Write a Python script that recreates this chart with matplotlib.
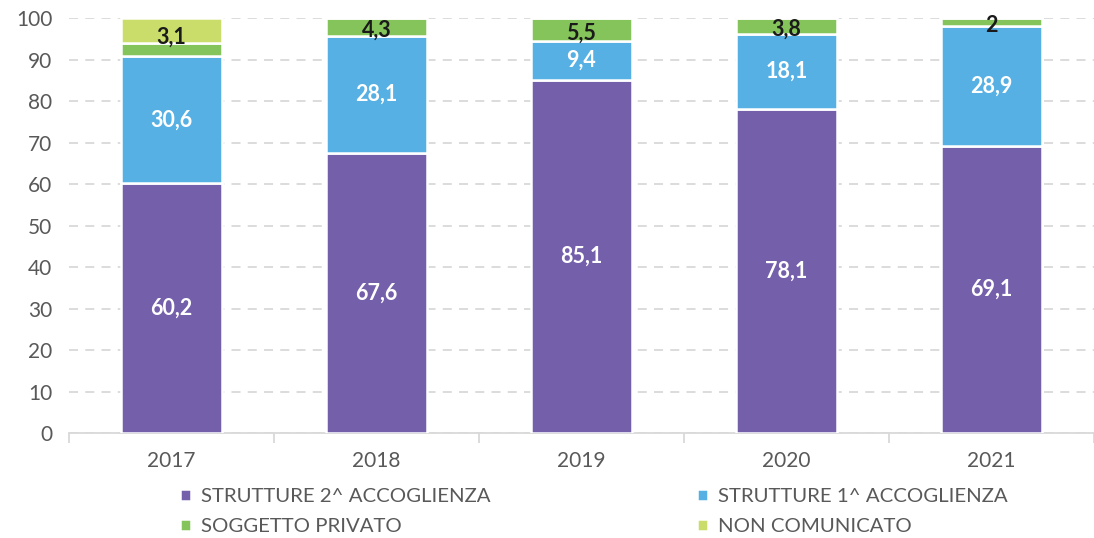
import matplotlib.pyplot as plt
import numpy as np

plt.rcParams['font.family'] = ['Lato', 'DejaVu Sans']

years = ['2017', '2018', '2019', '2020', '2021']
seconda = [60.2, 67.6, 85.1, 78.1, 69.1]
prima = [30.6, 28.1, 9.4, 18.1, 28.9]
privato = [3.1, 4.3, 5.5, 3.8, 2.0]
non_comunicato = [6.1, 0, 0, 0, 0]

series = [
    ('STRUTTURE 2^ ACCOGLIENZA', seconda, '#745FAB'),
    ('STRUTTURE 1^ ACCOGLIENZA', prima, '#56B0E3'),
    ('SOGGETTO PRIVATO', privato, '#84C45A'),
    ('NON COMUNICATO', non_comunicato, '#CADD6A'),
]

fig = plt.figure(figsize=(10.94, 5.38), dpi=100)
ax = fig.add_axes([0.063, 0.195, 0.937, 0.7715])

x = np.arange(len(years))
width = 0.49
bottom = np.zeros(len(years))
bars = {}
for name, vals, col in series:
    vals = np.array(vals, dtype=float)
    bars[name] = ax.bar(x, vals, width, bottom=bottom, color=col,
                        edgecolor='white', linewidth=1.8, label=name, zorder=3)
    bottom = bottom + vals

# labels for the two big segments
for name in ['STRUTTURE 2^ ACCOGLIENZA', 'STRUTTURE 1^ ACCOGLIENZA']:
    ax.bar_label(bars[name], labels=[f'{v:.1f}'.replace('.', ',') for v in bars[name].datavalues],
                 label_type='center', color='white', fontsize=15.5, fontweight='bold', zorder=4)

# small labels for soggetto privato
for i in range(len(years)):
    v = privato[i]
    base = seconda[i] + prima[i]
    if non_comunicato[i] > 0:
        y = base + v + 1.5
    else:
        y = base + v / 2 - 0.8
    txt = f'{v:g}'.replace('.', ',')
    ax.text(x[i], y, txt, ha='center', va='center', fontsize=15.5,
            fontweight='bold', color='#1a1a1a', zorder=5)

ax.set_ylim(0, 100)
ax.set_xlim(-0.5, len(years) - 0.5)
ax.set_yticks(range(0, 101, 10))
ax.yaxis.grid(True, linestyle=(0, (5, 4)), color='#d9d9d9', linewidth=1.3, zorder=0)
ax.set_axisbelow(True)

ax.set_xticks(x)
ax.set_xticklabels(years)
ax.set_xticks(np.arange(-0.5, len(years)), minor=True)
ax.tick_params(axis='x', which='major', length=0, pad=13, labelsize=15, labelcolor='#595959')
ax.tick_params(axis='x', which='minor', length=7, color='#d9d9d9', width=1.3)
ax.tick_params(axis='y', length=0, pad=12, labelsize=15, labelcolor='#595959')

for s in ['top', 'right', 'left']:
    ax.spines[s].set_visible(False)
ax.spines['bottom'].set_color('#d9d9d9')
ax.spines['bottom'].set_linewidth(1.3)

# row-major order for a 2-column legend
order = [0, 2, 1, 3]
handles = [bars[series[k][0]] for k in order]
labels = [series[k][0] for k in order]
fig.legend(handles, labels, ncol=2, loc='upper left', bbox_to_anchor=(0.155, 0.112),
           frameon=False, fontsize=14.7, handlelength=0.55, handleheight=0.55,
           handletextpad=0.5, columnspacing=10.1, labelspacing=0.65,
           labelcolor='#595959', borderpad=0)

fig.savefig('out.png', dpi=100)
